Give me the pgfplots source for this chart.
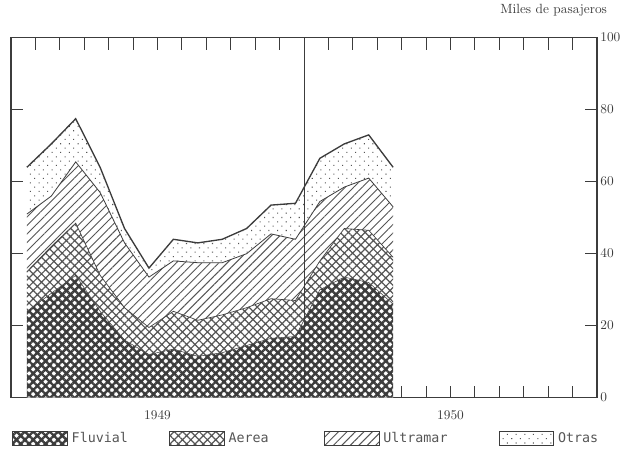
\documentclass[border=0pt]{standalone}
\usepackage{pgfplots}
\pgfplotsset{compat=1.18}
\usepackage{pgfplotstable}
\usetikzlibrary{patterns.meta}
\usepgfplotslibrary{fillbetween}
\usepackage{fontspec}
\newfontfamily\legfont{DejaVu Sans Mono}
\definecolor{ink}{HTML}{3C3C3C}
\definecolor{ink2}{HTML}{555555}

% Miles de pasajeros por mes (ene 1949 - abr 1950)
\pgfplotstableread{
x     F    A    U    O
0.65  24   11   16   13
1.65  29   13   14   14.5
2.65  34   14.5 17   12
3.65  24   10   23   7
4.65  16   9    18   4
5.65  12   7.5  14   2.5
6.65  13.5 10.5 14   6
7.65  11.5 10   16   5.5
8.65  12.5 10.5 14.5 6.5
9.65  14.5 10.5 15   7
10.65 16.5 11   18   8
11.65 17   10   17   10
12.65 30   8    16.5 12
13.65 33.5 13.5 11.5 12
14.65 32   14.5 14.5 12
15.65 26   13   14   11
}\data

\tikzset{
  pfluv/.style={pattern={Hatch[angle=45, distance=4.4pt, line width=1.8pt]}, pattern color=ink},
  paer/.style={pattern={Hatch[angle=45, distance=4.4pt, line width=0.9pt]}, pattern color=ink2},
  pult/.style={pattern={Lines[angle=45, distance=4.5pt, line width=0.7pt]}, pattern color=ink2},
  potr/.style={pattern={Dots[angle=45, distance=4.6pt, radius=0.55pt]}, pattern color=ink2},
}

\begin{document}
\begin{tikzpicture}
\begin{axis}[
  scale only axis, width=439.5pt, height=270pt,
  xmin=0, xmax=24, ymin=0, ymax=100,
  set layers,
  axis line style={ink, line width=0.9pt},
  xtick={1,...,23}, xticklabels={},
  extra x ticks={6,18}, extra x tick labels={1949,1950},
  extra x tick style={major tick length=0pt},
  xtick pos=both, tick align=inside, major tick length=9pt,
  ytick={0,20,...,100}, ytick pos=both, yticklabel pos=right,
  tick style={ink, line width=0.7pt},
  xticklabel style={font=\normalsize, yshift=-6pt, text=ink},
  yticklabel style={font=\normalsize, text=ink, xshift=-1pt},
  title={Miles de pasajeros},
  title style={at={(rel axis cs:1,1)}, anchor=base east, xshift=11pt, yshift=12pt, font=\normalsize, text=ink},
  legend columns=4,
  legend style={at={(rel axis cs:0,0)}, anchor=north west, xshift=0.75pt, yshift=-24.75pt,
    draw=none, fill=none, inner sep=0pt, column sep=3pt,
    nodes={inner sep=0pt, text=ink2}, font=\legfont\normalsize},
  legbox/.style={legend image code/.code={
    \path[#1] (0pt,-5.25pt) rectangle (41pt,5.25pt);
    \draw[ink, line width=0.6pt] (0pt,-5.25pt) rectangle (41pt,5.25pt);}},
]
\addplot[name path=base, draw=none, forget plot] table[x=x, y expr=0] {\data};
\addplot[name path=l1, draw=ink, line width=0.4pt, forget plot] table[x=x, y=F] {\data};
\addplot[name path=l2, draw=ink, line width=0.5pt, forget plot] table[x=x, y expr=\thisrow{F}+\thisrow{A}] {\data};
\addplot[name path=l3, draw=ink, line width=0.6pt, forget plot] table[x=x, y expr=\thisrow{F}+\thisrow{A}+\thisrow{U}] {\data};
\addplot[name path=l4, draw=ink, line width=1pt, forget plot] table[x=x, y expr=\thisrow{F}+\thisrow{A}+\thisrow{U}+\thisrow{O}] {\data};

\addplot[forget plot, draw=none, fill=white, postaction={pfluv}] fill between[of=l1 and base];
\addplot[forget plot, draw=none, fill=white, postaction={paer}] fill between[of=l2 and l1];
\addplot[forget plot, draw=none, fill=white, postaction={pult}] fill between[of=l3 and l2];
\addplot[forget plot, draw=none, fill=white, postaction={potr}] fill between[of=l4 and l3];

\addlegendimage{legbox=pfluv}
\addlegendentry{\makebox[70pt][l]{Fluvial}}
\addlegendimage{legbox=paer}
\addlegendentry{\makebox[68.5pt][l]{Aerea}}
\addlegendimage{legbox=pult}
\addlegendentry{\makebox[83.5pt][l]{Ultramar}}
\addlegendimage{legbox=potr}
\addlegendentry{Otras}

\draw[ink, line width=0.7pt] (axis cs:12,0) -- (axis cs:12,100);
\end{axis}
\useasboundingbox (-8.25pt,-50.25pt) rectangle (464.25pt,294.75pt);
\end{tikzpicture}
\end{document}
